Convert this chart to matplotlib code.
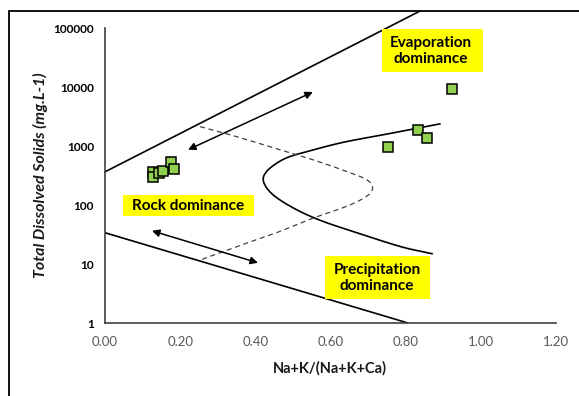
import numpy as np
import matplotlib
matplotlib.use("Agg")
import matplotlib.pyplot as plt
from matplotlib.patches import Rectangle

# ---- data ----
ratio = [0.127, 0.128, 0.144, 0.155, 0.176, 0.184, 0.922, 0.833, 0.856, 0.753]
tds = [371, 305, 357, 375, 548, 407, 9360, 1890, 1400, 986]

# Gibbs boundary lines
upper_x = [0.0, 0.838]
upper_y = [367, 196000]
lower_x = [0.0, 0.806]
lower_y = [34, 1]

# solid boomerang curve
solid_x = [0.891, 0.785, 0.643, 0.554, 0.492, 0.457, 0.430, 0.421, 0.434, 0.465, 0.519,
           0.581, 0.660, 0.785, 0.870]
solid_y = [2388, 1766, 1197, 865, 667, 515, 372, 269, 182, 123, 78, 52.7, 35.7, 19.9, 15]
# dashed boomerang curve
dash_x = [0.253, 0.332, 0.465, 0.554, 0.643, 0.696, 0.712, 0.696, 0.643, 0.554, 0.465,
          0.377, 0.253]
dash_y = [2148, 1567, 873, 586, 372, 270, 196, 141, 95.5, 60.3, 35.7, 22.7, 11.7]

# arrows (start, end)
arrow1 = ((0.221, 870), (0.553, 8300))
arrow2 = ((0.125, 36.6), (0.407, 10.5))

xticks = [0.0, 0.2, 0.4, 0.6, 0.8, 1.0, 1.2]
xtick_labels = ["0.00", "0.20", "0.40", "0.60", "0.80", "1.00", "1.20"]
yticks = [1, 10, 100, 1000, 10000, 100000]
ytick_labels = ["1", "10", "100", "1000", "10000", "100000"]


def smooth(xs, ys, n=20):
    # Catmull-Rom through the points, in an aspect-corrected (x, log y) space
    sxs, sys_ = 376.0, 59.0
    px = np.array(xs, float) * sxs
    py = np.log10(np.array(ys, float)) * sys_
    P = np.stack([px, py], 1)
    P = np.vstack([2 * P[0] - P[1], P, 2 * P[-1] - P[-2]])
    out = []
    t = np.linspace(0, 1, n, endpoint=False)[:, None]
    for i in range(1, len(P) - 2):
        p0, p1, p2, p3 = P[i - 1], P[i], P[i + 1], P[i + 2]
        seg = 0.5 * ((2 * p1) + (-p0 + p2) * t + (2 * p0 - 5 * p1 + 4 * p2 - p3) * t ** 2
                     + (-p0 + 3 * p1 - 3 * p2 + p3) * t ** 3)
        out.append(seg)
    out.append(P[-2][None, :])
    out = np.vstack(out)
    return out[:, 0] / sxs, 10 ** (out[:, 1] / sys_)


plt.rcParams['font.family'] = ['Lato', 'DejaVu Sans']
W, H = 579, 396
fig = plt.figure(figsize=(W / 100, H / 100), dpi=100)
ax = fig.add_axes([105 / W, 1 - 323 / H, (556 - 105) / W, (323 - 28.3) / H])

ax.set_xlim(0, 1.2)
ax.set_yscale('log')
ax.set_ylim(1, 100000)

ax.plot(upper_x, upper_y, color='black', lw=1.2, clip_on=False)
ax.plot(lower_x, lower_y, color='black', lw=1.2)
sx, sy = smooth(solid_x, solid_y)
ax.plot(sx, sy, color='black', lw=1.2)
dx, dy = smooth(dash_x, dash_y)
ax.plot(dx, dy, color='#404040', lw=0.9, ls=(0, (4, 3)))

for (a, b) in (arrow1, arrow2):
    ax.annotate('', xy=b, xytext=a,
                arrowprops=dict(arrowstyle='<|-|>', color='black', lw=1.1,
                                mutation_scale=11, shrinkA=0, shrinkB=0))

ax.plot(ratio, tds, ls='none', marker='s', markersize=7.5, markerfacecolor='#92D050',
        markeredgecolor='black', markeredgewidth=1.1, zorder=5)

ax.set_xticks(xticks)
ax.set_xticklabels(xtick_labels, fontsize=9.5, color='#595959')
ax.set_yticks(yticks)
ax.set_yticklabels(ytick_labels, fontsize=8.5, fontweight='bold', color='black')
ax.yaxis.set_minor_locator(matplotlib.ticker.NullLocator())
ax.tick_params(length=0, pad=8)
ax.tick_params(axis='x', pad=9)
for s in ('top', 'right'):
    ax.spines[s].set_visible(False)
for s in ('left', 'bottom'):
    ax.spines[s].set_color('#404040')
    ax.spines[s].set_linewidth(1.2)

fig.text(330 / W, 1 - 368 / H, 'Na+K/(Na+K+Ca)', ha='center', va='center',
         fontsize=10.5, fontweight='bold', color='#1a1a1a')
fig.text(40 / W, 1 - 175 / H, 'Total Dissolved Solids (mg.L-1)', ha='center', va='center',
         rotation=90, fontsize=11.5, fontweight='bold', style='italic', color='#1a1a1a')


def box(l, t, r, b):
    fig.patches.append(Rectangle((l / W, 1 - b / H), (r - l) / W, (b - t) / H,
                                 transform=fig.transFigure, facecolor='#FFFF00',
                                 edgecolor='none', zorder=3))


box(382, 29, 483, 72)
fig.text(431 / W, 1 - 51 / H, 'Evaporation\ndominance', ha='center', va='center',
         fontsize=11, fontweight='bold', linespacing=1.25, zorder=4)
box(123, 195, 254, 216)
fig.text(188 / W, 1 - 206 / H, 'Rock dominance', ha='center', va='center',
         fontsize=11, fontweight='bold', zorder=4)
box(325, 256, 430, 299)
fig.text(377 / W, 1 - 278 / H, 'Precipitation\ndominance', ha='center', va='center',
         fontsize=11, fontweight='bold', linespacing=1.25, zorder=4)

# chart-area border (partially cropped)
fig.patches.append(Rectangle((8.5 / W, -0.1), 1.2, 1 - 10.5 / H + 0.1,
                             transform=fig.transFigure, facecolor='none',
                             edgecolor='black', lw=1.3))

fig.savefig('out.png', dpi=100)
